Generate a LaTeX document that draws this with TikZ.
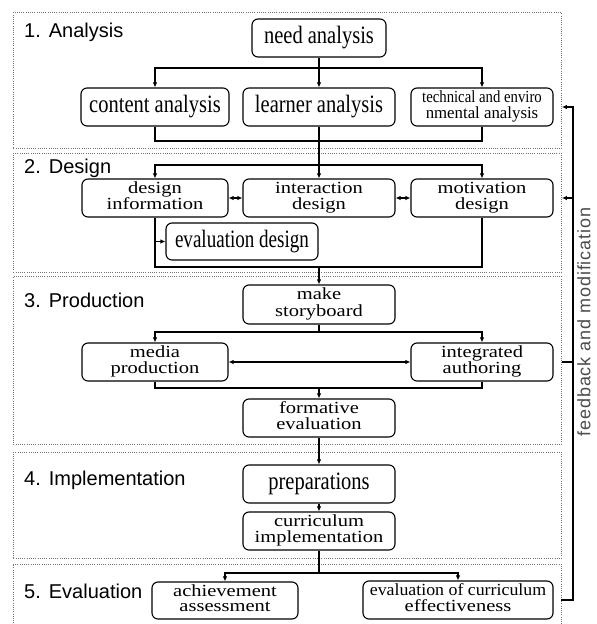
\documentclass[tikz,border=0pt]{standalone}
\usepackage{fontspec}
\usepackage{graphicx}
\usetikzlibrary{arrows.meta}
\setmainfont{Liberation Serif}
\newfontfamily\nodefont[FakeStretch=0.82]{Liberation Serif}
\newfontfamily\labfont{Liberation Sans}
\newfontfamily\fbfont[LetterSpace=5]{Liberation Sans}
\newcommand\twoline[2]{\scalebox{1}[0.68]{\begin{tabular}{@{}c@{}}#1\\#2\end{tabular}}}
\begin{document}
\begin{tikzpicture}[x=1pt,y=-1pt,
  >={Latex[length=5pt,width=4.5pt]},
  box/.style={draw, line width=1.1pt, rounded corners=6pt, minimum height=38pt, inner sep=0pt,
    font=\nodefont\fontsize{25}{23}\selectfont},
  sec/.style={draw=black!55, line width=0.9pt, dash pattern=on 1pt off 1.2pt},
  secbox/.style={sec, anchor=north west, inner sep=0pt, minimum width=548pt},
  conn/.style={line width=1.1pt},
  lab/.style={anchor=base west, inner sep=0pt, font=\labfont\fontsize{20}{22}\selectfont}]
\useasboundingbox (0,0) rectangle (597,624);

% section frames
\node[secbox, minimum height=136pt] (S1) at (13,12) {};
\node[secbox, minimum height=119pt] (S2) at (13,153) {};
\node[secbox, minimum height=168pt] (S3) at (13,276) {};
\node[secbox, minimum height=106pt] (S4) at (13,452) {};
\coordinate (S5e) at (561,564);
\draw[sec] (13,630) |- (S5e) -- (561,630);

% section labels
\node[lab] (L1) at (24,37) {1.\hspace{8pt}Analysis};
\node[lab] (L2) at (24,173) {2.\hspace{8pt}Design};
\node[lab] (L3) at (24,307) {3.\hspace{8pt}Production};
\node[lab] (L4) at (24,485) {4.\hspace{8pt}Implementation};
\node[lab] (L5) at (24,598) {5.\hspace{8pt}Evaluation};

% nodes
\node[box, minimum width=134pt] (need) at (319,38) {need analysis};
\node[box, minimum width=148pt] (content) at (155,107) {content analysis};
\node[box, minimum width=152pt] (learner) at (319,107) {learner analysis};
\node[box, minimum width=142pt] (tech) at (482,107) {\twoline{\scalebox{0.72}[1]{technical and enviro}}{\scalebox{0.82}[1]{nmental analysis}}};

\node[box, minimum width=146pt] (dinfo) at (155,198) {\twoline{design}{information}};
\node[box, minimum width=152pt] (inter) at (319,198) {\twoline{interaction}{design}};
\node[box, minimum width=142pt] (mot) at (482,198) {\twoline{motivation}{design}};
\node[box, minimum width=152pt, minimum height=37pt] (evald) at (242,241.5) {\scalebox{0.93}[1]{evaluation design}};

\node[box, minimum width=152pt, minimum height=39pt] (story) at (319,304.5) {\twoline{make}{storyboard}};
\node[box, minimum width=146pt] (media) at (155,362) {\twoline{media}{production}};
\node[box, minimum width=142pt] (integ) at (482,362) {\twoline{integrated}{authoring}};
\node[box, minimum width=152pt] (form) at (319,418) {\twoline{formative}{evaluation}};

\node[box, minimum width=152pt] (prep) at (319,484) {preparations};
\node[box, minimum width=152pt] (curr) at (319,531) {\twoline{curriculum}{implementation}};

\node[box, minimum width=146pt, minimum height=37pt] (ach) at (225,600.5) {\twoline{achievement}{assessment}};
\node[box, minimum width=190pt] (ecur) at (458,600) {\twoline{\scalebox{0.87}[1]{evaluation of curriculum}}{effectiveness}};

% junction levels
\coordinate (j1) at (0,68);
\coordinate (j2) at (0,141);
\coordinate (j3) at (0,165);
\coordinate (j4) at (0,267);
\coordinate (j5) at (0,332);
\coordinate (j6) at (0,388);
\coordinate (j7) at (0,573);
\coordinate (fb) at (573,0);

% analysis
\draw[conn,->] (need.south) -- (learner.north);
\draw[conn,<->] (content.north) -- (content.north |- j1) -- (tech.north |- j1) -- (tech.north);
\draw[conn] (content.south) -- (content.south |- j2) -- (tech.south |- j2) -- (tech.south);
\draw[conn,->] (learner.south) -- (inter.north);

% design
\draw[conn,<->] (dinfo.north) -- (dinfo.north |- j3) -- (mot.north |- j3) -- (mot.north);
\draw[conn,<->] (dinfo.east) -- (inter.west);
\draw[conn,<->] (inter.east) -- (mot.west);
\draw[conn] (dinfo.south) -- (dinfo.south |- j4) -- (mot.south |- j4) -- (mot.south);
\draw[conn,->] (dinfo.south |- evald.west) -- (evald.west);
\draw[conn,->] (story.north |- j4) -- (story.north);

% production
\draw[conn] (story.south) -- (story.south |- j5);
\draw[conn,<->] (media.north) -- (media.north |- j5) -- (integ.north |- j5) -- (integ.north);
\draw[conn,<->] (media.east) -- (integ.west);
\draw[conn] (media.south) -- (media.south |- j6) -- (integ.south |- j6) -- (integ.south);
\draw[conn,->] (form.north |- j6) -- (form.north);

% implementation
\draw[conn,->] (form.south) -- (prep.north);
\draw[conn,->] (prep.south) -- (curr.north);

% evaluation
\draw[conn] (curr.south) -- (curr.south |- j7);
\draw[conn,<->] (ach.north) -- (ach.north |- j7) -- (ecur.north |- j7) -- (ecur.north);

% feedback loop
\draw[conn,->] (ecur -| S5e) -| (fb |- tech) -- (tech -| S1.east);
\draw[conn,->] (mot -| fb) -- (mot -| S2.east);
\draw[conn] (integ -| fb) -- (integ -| S3.east);
\node[rotate=90, inner sep=0pt, text=black!70, font=\fbfont\fontsize{18}{20}\selectfont] (fbt) at (584,322) {feedback and modification};
\end{tikzpicture}
\end{document}
